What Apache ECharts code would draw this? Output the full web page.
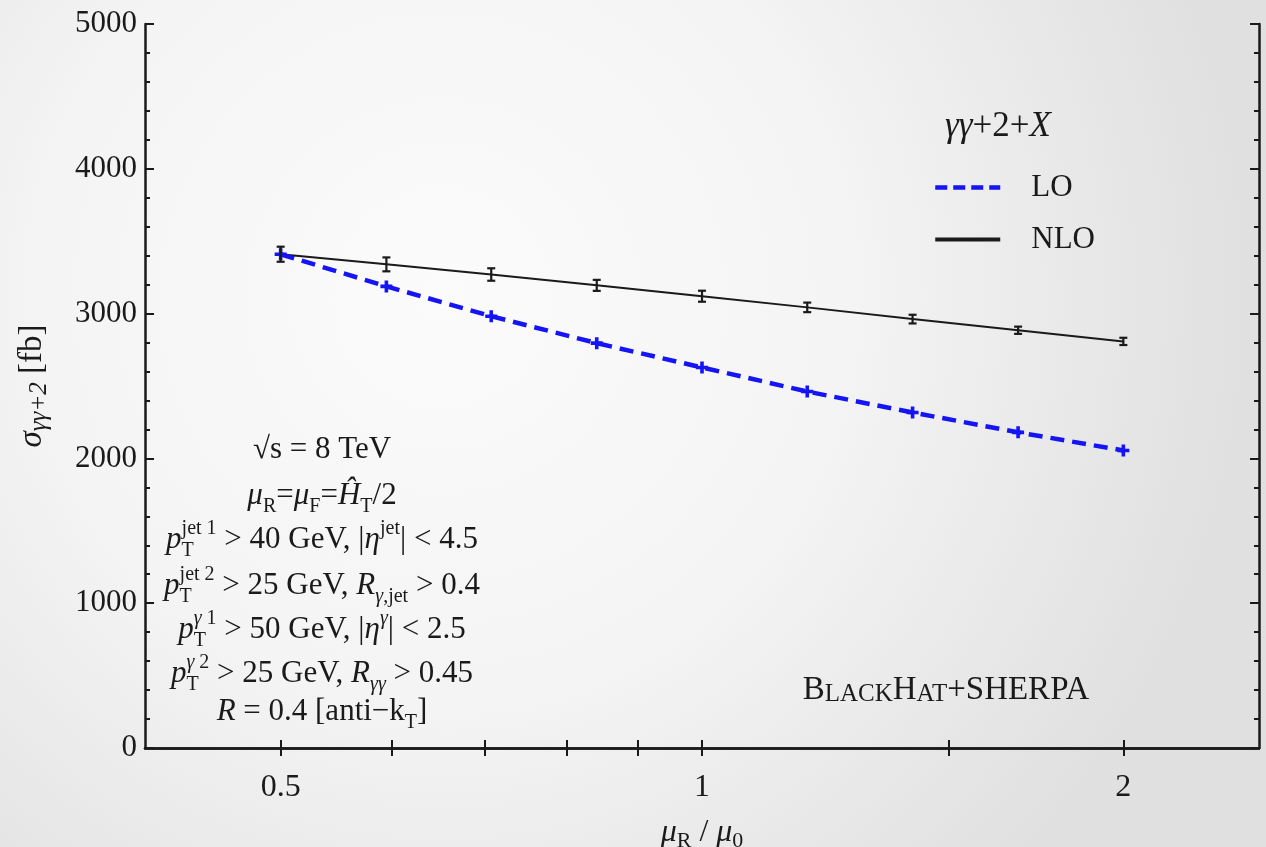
<!DOCTYPE html>
<html>
<head>
<meta charset="utf-8">
<script src="https://cdn.jsdelivr.net/npm/echarts@6/dist/echarts.min.js"></script>
<style>
  html, body { margin: 0; padding: 0; }
  #chart { width: 1266px; height: 847px; }
</style>
</head>
<body>
<div id="chart"></div>
<script>
// scale variation mu_R / mu_0 (log axis)
const scales = [0.5, 0.595, 0.707, 0.841, 1, 1.189, 1.414, 1.682, 2];
const nloValues = [3410, 3340, 3270, 3195, 3120, 3043, 2962, 2885, 2808];
const nloErrors = [52, 48, 43, 38, 38, 33, 30, 25, 25];
const loValues = [3410, 3188, 2982, 2796, 2628, 2462, 2317, 2180, 2055];
const xLabelTicks = [0.5, 1, 2];
const xAllTicks = [0.5, 0.6, 0.7, 0.8, 0.9, 1, 1.5, 2];

const serif = "'Liberation Serif', 'DejaVu Serif', serif";
const ink = '#1a1a1a';
const blue = '#1414f5';

const chart = echarts.init(document.getElementById('chart'));

function xAxisDef(pos) {
  return {
    type: 'log',
    logBase: 2,
    min: 0.4,
    max: 2.5,
    position: pos,
    axisLine: { lineStyle: { color: ink, width: 2.5 } },
    axisTick: { inside: true, length: 8, customValues: xAllTicks, lineStyle: { color: ink, width: 2 } },
    axisLabel: {
      show: pos === 'bottom',
      customValues: xLabelTicks,
      formatter: v => String(v),
      fontFamily: serif, fontSize: 32, color: ink, margin: 24
    },
    splitLine: { show: false },
    minorTick: { show: false }
  };
}

function yAxisDef(pos) {
  return {
    type: 'value',
    min: 0,
    max: 5000,
    interval: 1000,
    position: pos,
    axisLine: { show: true, lineStyle: { color: ink, width: 2.5 } },
    axisTick: { show: true, inside: true, length: 9, lineStyle: { color: ink, width: 2 } },
    minorTick: { show: true, splitNumber: 5, length: 5, lineStyle: { color: ink, width: 2 } },
    axisLabel: {
      show: pos === 'left', formatter: v => String(v),
      fontFamily: serif, fontSize: 31, color: ink, margin: 8
    },
    splitLine: { show: false }
  };
}

const xBottom = xAxisDef('bottom');
xBottom.name = '{i|μ}{sub|R}{n| / }{i|μ}{sub|0}';
xBottom.nameLocation = 'middle';
xBottom.nameGap = 66;
xBottom.nameTextStyle = {
  rich: {
    i: { fontFamily: serif, fontStyle: 'italic', fontSize: 32, color: ink, lineHeight: 38 },
    n: { fontFamily: serif, fontSize: 32, color: ink, lineHeight: 38 },
    sub: { fontFamily: serif, fontSize: 22, color: ink, verticalAlign: 'bottom', lineHeight: 22 }
  }
};

const yLeft = yAxisDef('left');
yLeft.name = '{i|σ}{sub|γγ+2}{n| [fb]}';
yLeft.nameLocation = 'middle';
yLeft.nameGap = 93;
yLeft.nameRotate = 90;
yLeft.nameTextStyle = {
  rich: {
    i: { fontFamily: serif, fontStyle: 'italic', fontSize: 33, color: ink, lineHeight: 40 },
    n: { fontFamily: serif, fontSize: 33, color: ink, lineHeight: 40 },
    sub: { fontFamily: serif, fontStyle: 'italic', fontSize: 25, color: ink, verticalAlign: 'bottom', lineHeight: 22 }
  }
};

const annRich = {
  n: { fontFamily: serif, fontSize: 31, fill: ink, lineHeight: 42, align: 'left' },
  i: { fontFamily: serif, fontStyle: 'italic', fontSize: 31, fill: ink, lineHeight: 42, align: 'left' },
  sup: { fontFamily: serif, fontSize: 20, fill: ink, verticalAlign: 'top', lineHeight: 22, align: 'left' },
  supi: { fontFamily: serif, fontStyle: 'italic', fontSize: 20, fill: ink, verticalAlign: 'top', lineHeight: 22, align: 'left' },
  sub: { fontFamily: serif, fontSize: 20, fill: ink, verticalAlign: 'bottom', lineHeight: 20, align: 'left' },
  subi: { fontFamily: serif, fontStyle: 'italic', fontSize: 20, fill: ink, verticalAlign: 'bottom', lineHeight: 20, align: 'left' },
  subz: { fontFamily: serif, fontSize: 20, fill: ink, verticalAlign: 'bottom', lineHeight: 20, width: 0, align: 'left' }
};

const annLines = [
  ['{n|√s = 8 TeV}', 450],
  ['{i|μ}{sub|R}{n|=}{i|μ}{sub|F}{n|=}{i|Ĥ}{sub|T}{n|/2}', 496],
  ['{i|p}{subz|T}{sup|jet 1}{n| > 40 GeV, |}{i|η}{sup|jet}{n|| < 4.5}', 540],
  ['{i|p}{subz|T}{sup|jet 2}{n| > 25 GeV, }{i|R}{subi|γ}{sub|,jet}{n| > 0.4}', 586],
  ['{i|p}{subz|T}{supi|γ}{sup| 1}{n| > 50 GeV, |}{i|η}{supi|γ}{n|| < 2.5}', 630],
  ['{i|p}{subz|T}{supi|γ}{sup| 2}{n| > 25 GeV, }{i|R}{subi|γγ}{n| > 0.45}', 674],
  ['{i|R}{n| = 0.4 [anti−k}{sub|T}{n|]}', 712]
];

const graphics = annLines.map(([t, y]) => ({
  type: 'text',
  x: 322, y: y,
  style: { text: t, rich: annRich, align: 'center', verticalAlign: 'middle', fill: ink }
}));

graphics.push({
  type: 'text',
  x: 946, y: 690,
  style: {
    text: '{b|B}{s|LACK}{b|H}{s|AT}{b|+SHERPA}',
    align: 'center', verticalAlign: 'middle',
    rich: {
      b: { fontFamily: serif, fontSize: 33, fill: ink, verticalAlign: 'bottom', lineHeight: 34, align: 'left' },
      s: { fontFamily: serif, fontSize: 25, fill: ink, verticalAlign: 'bottom', lineHeight: 28, align: 'left' }
    }
  }
});

const option = {
  backgroundColor: {
    type: 'radial', x: 0.35, y: 0.35, r: 0.95,
    colorStops: [
      { offset: 0, color: '#fbfbfb' },
      { offset: 0.5, color: '#f4f4f4' },
      { offset: 1, color: '#e0e0e0' }
    ]
  },
  animation: false,
  grid: { left: 145, right: 7, top: 24, bottom: 99, outerBoundsMode: 'none', containLabel: false },
  title: {
    text: '{g|γγ}{n|+2+}{x|X}',
    left: 940, top: 104,
    textStyle: {
      rich: {
        g: { fontFamily: serif, fontStyle: 'italic', fontWeight: 'normal', fontSize: 35, color: ink },
        n: { fontFamily: serif, fontWeight: 'normal', fontSize: 35, color: ink },
        x: { fontFamily: serif, fontStyle: 'italic', fontWeight: 'normal', fontSize: 35, color: ink }
      }
    }
  },
  legend: {
    data: [
      { name: 'LO', lineStyle: { width: 4.5, type: [12, 6] } },
      { name: 'NLO', lineStyle: { width: 4 } }
    ],
    orient: 'vertical',
    left: 928, top: 167,
    itemWidth: 65, itemHeight: 14, itemGap: 21,
    itemStyle: { opacity: 0 },
    textStyle: { fontFamily: serif, fontSize: 31, color: ink, padding: [0, 0, 0, 26] }
  },
  xAxis: [xBottom, xAxisDef('top')],
  yAxis: [yLeft, yAxisDef('right')],
  graphic: graphics,
  series: [
    {
      name: 'LO',
      type: 'line',
      data: scales.map((s, i) => [s, loValues[i]]),
      lineStyle: { color: blue, width: 4.5, type: [14, 8] },
      itemStyle: { color: blue },
      symbol: 'path://M3.5,0H6.5V3.5H10V6.5H6.5V10H3.5V6.5H0V3.5H3.5Z',
      symbolSize: 12,
      z: 3
    },
    {
      name: 'NLO',
      type: 'line',
      data: scales.map((s, i) => [s, nloValues[i]]),
      lineStyle: { color: ink, width: 2 },
      itemStyle: { color: ink },
      symbol: 'none',
      z: 2
    },
    {
      type: 'custom',
      data: scales.map((s, i) => [s, nloValues[i] - nloErrors[i], nloValues[i] + nloErrors[i]]),
      encode: { x: 0, y: [1, 2] },
      renderItem: (params, api) => {
        const lo = api.coord([api.value(0), api.value(1)]);
        const hi = api.coord([api.value(0), api.value(2)]);
        const w = 4;
        const st = { stroke: ink, lineWidth: 2.2 };
        return {
          type: 'group',
          children: [
            { type: 'line', shape: { x1: lo[0], y1: lo[1], x2: hi[0], y2: hi[1] }, style: st },
            { type: 'line', shape: { x1: lo[0] - w, y1: lo[1], x2: lo[0] + w, y2: lo[1] }, style: st },
            { type: 'line', shape: { x1: hi[0] - w, y1: hi[1], x2: hi[0] + w, y2: hi[1] }, style: st }
          ]
        };
      },
      z: 4
    }
  ]
};

chart.setOption(option);
</script>
</body>
</html>
